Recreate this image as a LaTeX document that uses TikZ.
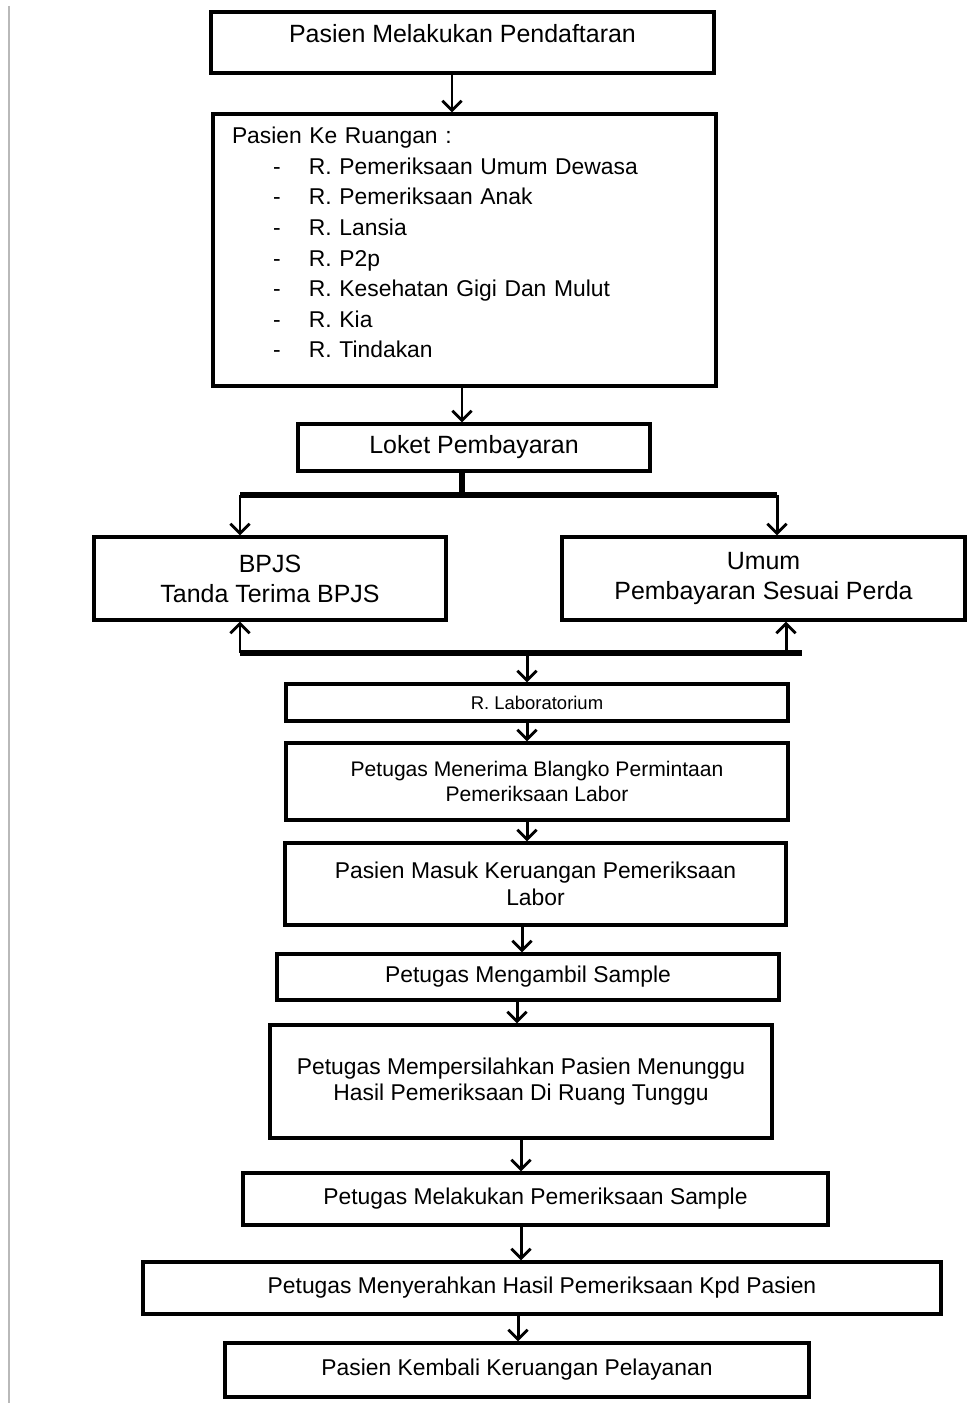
\documentclass[tikz,border=0pt]{standalone}
\usepackage{fontspec}
\setmainfont{Liberation Sans}
\usetikzlibrary{arrows.meta,positioning}
\newcommand{\ruang}[1]{\hspace*{0.82cm}\makebox[0.72cm][l]{-}#1}

\begin{document}
\begin{tikzpicture}[
    box/.style={draw, rectangle, line width=1.8pt, align=center, inner sep=2pt},
    arrow/.style={-{Straight Barb[length=5.5pt,width=11pt,line width=1.6pt]}, line width=1.7pt},
    bar/.style={line width=3pt},
    txtbig/.style={font=\fontsize{14.2}{17}\selectfont},
    txtmid/.style={font=\fontsize{13}{15}\selectfont},
    txtsmall/.style={font=\fontsize{12}{14.7}\selectfont}
]
    \useasboundingbox (0,0) rectangle (19.34,-28.06);
    % page margin line
    \draw[gray!55, line width=1.1pt] (0.18,-0.12) -- (0.18,-28.06);

    % Registration and rooms
    \node[box, txtbig, text depth=0.37cm, minimum width=10.06cm, minimum height=1.22cm] (daftar) at (9.25,-0.85) {Pasien Melakukan Pendaftaran};
    \node[box, align=left, text width=9.3cm, inner xsep=0.38cm, minimum height=5.44cm,
          font=\fontsize{13}{17.4}\selectfont] (ruangan) at (9.29,-5.0)
        {Pasien Ke Ruangan :\\
         \ruang{R. Pemeriksaan Umum Dewasa}\\
         \ruang{R. Pemeriksaan Anak}\\
         \ruang{R. Lansia}\\
         \ruang{R. P2p}\\
         \ruang{R. Kesehatan Gigi Dan Mulut}\\
         \ruang{R. Kia}\\
         \ruang{R. Tindakan}\rule[-0.3cm]{0pt}{0.3cm}};

    % Payment
    \node[box, txtbig, minimum width=7.04cm, minimum height=0.94cm] (loket) at (9.48,-8.95) {Loket Pembayaran};
    \node[box, txtbig, minimum width=7.04cm, minimum height=1.66cm] (bpjs) at (5.40,-11.57) {BPJS\\Tanda Terima BPJS};
    \node[box, txtbig, minimum width=8.06cm, minimum height=1.66cm] (umum) at (15.27,-11.57) {Umum\\Pembayaran Sesuai Perda};

    % Laboratory steps
    \node[box, font=\fontsize{10.5}{12}\selectfont, minimum width=10.04cm, minimum height=0.74cm] (lab) at (10.74,-14.05) {R. Laboratorium};
    \node[box, txtsmall, minimum width=10.04cm, minimum height=1.54cm] (blangko) at (10.74,-15.63) {Petugas Menerima Blangko Permintaan\\Pemeriksaan Labor};
    \node[box, txtmid, minimum width=10.02cm, minimum height=1.64cm] (masuk) at (10.71,-17.68) {Pasien Masuk Keruangan Pemeriksaan\\Labor};
    \node[box, txtmid, minimum width=10.04cm, minimum height=0.92cm] (ambil) at (10.56,-19.54) {Petugas Mengambil Sample};
    \node[box, txtmid, minimum width=10.04cm, minimum height=2.26cm] (tunggu) at (10.42,-21.63) {Petugas Mempersilahkan Pasien Menunggu\\Hasil Pemeriksaan Di Ruang Tunggu};
    \node[box, txtmid, minimum width=11.70cm, minimum height=1.04cm] (periksa) at (10.71,-23.98) {Petugas Melakukan Pemeriksaan Sample};
    \node[box, txtmid, minimum width=15.96cm, minimum height=1.04cm] (serah) at (10.84,-25.76) {Petugas Menyerahkan Hasil Pemeriksaan Kpd Pasien};
    \node[box, txtmid, minimum width=11.68cm, minimum height=1.08cm] (kembali) at (10.34,-27.40) {Pasien Kembali Keruangan Pelayanan};

    % Branch points
    \coordinate (splitL) at (4.80,-9.90);
    \coordinate (splitR) at (15.54,-9.90);
    \coordinate (joinL) at (4.80,-13.06);
    \coordinate (joinR) at (16.04,-13.06);
    \coordinate (joinU) at (15.72,-13.06);
    \coordinate (joinD) at (10.54,-13.06);

    % Arrows
    \draw[arrow] ([xshift=-0.21cm]daftar.south) -- ([xshift=-0.21cm]daftar.south |- ruangan.north);
    \draw[arrow] ([xshift=-0.05cm]ruangan.south) -- ([xshift=-0.05cm]ruangan.south |- loket.north);
    \draw[bar] ([xshift=-0.24cm]loket.south) -- ([xshift=-0.24cm]loket.south |- splitL);
    \draw[bar] (splitL) -- (splitR);
    \draw[arrow] (splitL) -- (splitL |- bpjs.north);
    \draw[arrow] (splitR) -- (splitR |- umum.north);
    \draw[bar] (joinL) -- (joinR);
    \draw[arrow] (joinL) -- (joinL |- bpjs.south);
    \draw[arrow] (joinU) -- (joinU |- umum.south);
    \draw[arrow] (joinD) -- (joinD |- lab.north);
    \draw[arrow] ([xshift=-0.2cm]lab.south) -- ([xshift=-0.2cm]lab.south |- blangko.north);
    \draw[arrow] ([xshift=-0.2cm]blangko.south) -- ([xshift=-0.2cm]blangko.south |- masuk.north);
    \draw[arrow] ([xshift=-0.27cm]masuk.south) -- ([xshift=-0.27cm]masuk.south |- ambil.north);
    \draw[arrow] ([xshift=-0.22cm]ambil.south) -- ([xshift=-0.22cm]ambil.south |- tunggu.north);
    \draw[arrow] (tunggu.south) -- (tunggu.south |- periksa.north);
    \draw[arrow] ([xshift=-0.29cm]periksa.south) -- ([xshift=-0.29cm]periksa.south |- serah.north);
    \draw[arrow] ([xshift=-0.48cm]serah.south) -- ([xshift=-0.48cm]serah.south |- kembali.north);
\end{tikzpicture}
\end{document}
